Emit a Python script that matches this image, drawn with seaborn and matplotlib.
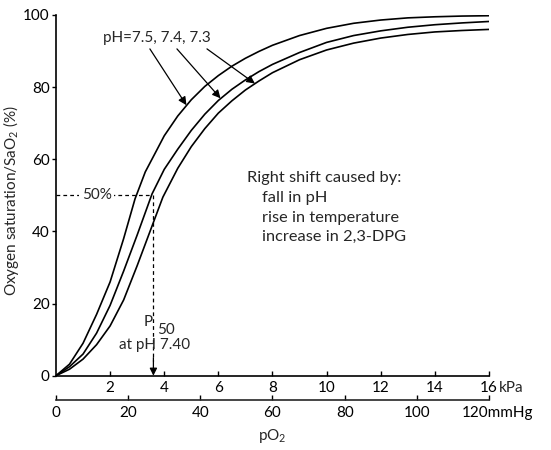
import numpy as np
import pandas as pd
import seaborn as sns
import matplotlib.pyplot as plt
from matplotlib.transforms import ScaledTranslation

# oxygen dissociation curves, pO2 in kPa vs saturation in %
kpa_75 = [0, 0.5, 1, 1.5, 2, 2.5, 2.92, 3.3, 3.7, 4.0, 4.5, 5.0, 5.5, 6.0, 6.5, 7.0, 7.5, 8.0, 9, 10, 11, 12, 13, 14, 15, 16]
sat_75 = [0, 3.2, 9, 17, 26, 38, 49, 56.5, 62.2, 66.5, 72, 76.5, 80.2, 83.2, 85.8, 88, 89.9, 91.6, 94.3, 96.3, 97.7, 98.6, 99.2, 99.5, 99.7, 99.8]

kpa_74 = [0, 0.5, 1, 1.5, 2, 2.5, 3, 3.55, 4.0, 4.5, 5.0, 5.5, 6.0, 6.5, 7.0, 7.5, 8.0, 9, 10, 11, 12, 13, 14, 15, 16]
sat_74 = [0, 2.5, 6, 11.8, 19.5, 29, 39, 50.4, 57.2, 62.8, 68, 72.5, 76.3, 79.4, 82, 84.3, 86.3, 89.6, 92.4, 94.3, 95.6, 96.6, 97.3, 97.8, 98.2]

kpa_73 = [0, 0.5, 1, 1.5, 2, 2.5, 3, 3.5, 3.95, 4.5, 5.0, 5.5, 6.0, 6.5, 7.0, 7.5, 8.0, 9, 10, 11, 12, 13, 14, 15, 16]
sat_73 = [0, 1.8, 4.6, 8.6, 13.8, 21, 30.5, 40.5, 49.5, 57.5, 63.5, 68.5, 72.8, 76.2, 79.2, 81.7, 84, 87.6, 90.3, 92.2, 93.6, 94.6, 95.3, 95.7, 96]

ph_labels = ["7.5", "7.4", "7.3"]
p50_kpa = 3.6
kpa_ticks = [2, 4, 6, 8, 10, 12, 14, 16]
mmhg_ticks = [0, 20, 40, 60, 80, 100, 120]
y_ticks = [0, 20, 40, 60, 80, 100]
shift_lines = ["fall in pH", "rise in temperature", "increase in 2,3-DPG"]

df = pd.concat([
    pd.DataFrame({"kPa": kpa_75, "sat": sat_75, "pH": "7.5"}),
    pd.DataFrame({"kPa": kpa_74, "sat": sat_74, "pH": "7.4"}),
    pd.DataFrame({"kPa": kpa_73, "sat": sat_73, "pH": "7.3"}),
])

sns.set_style("ticks")
plt.rcParams["font.family"] = ["Lato", "DejaVu Sans"]
plt.rcParams["mathtext.fontset"] = "custom"
plt.rcParams["mathtext.rm"] = "Lato"
plt.rcParams["mathtext.it"] = "Lato"
plt.rcParams["mathtext.default"] = "regular"
fs = 11

fig = plt.figure(figsize=(5.51, 4.5), dpi=100)
ax = fig.add_axes([0.1016, 0.1651, 0.7858, 0.8016])

sns.lineplot(data=df, x="kPa", y="sat", units="pH", estimator=None, sort=False,
             color="black", lw=1.2, ax=ax)

ax.set_xlim(0, 16)
ax.set_ylim(0, 100)
for s in ["top", "right"]:
    ax.spines[s].set_visible(False)
for s in ["left", "bottom"]:
    ax.spines[s].set_linewidth(1.2)
    ax.spines[s].set_color("black")

ax.set_yticks(y_ticks)
ax.tick_params(axis="y", direction="out", length=3, width=1, pad=1.5, labelsize=fs, colors="black")
ax.set_xticks(kpa_ticks)
ax.set_xticklabels([str(t) for t in kpa_ticks])
ax.tick_params(axis="x", direction="in", length=3.5, width=1, pad=4, labelsize=fs, colors="black")
ax.set_xlabel("")
ax.set_ylabel("Oxygen saturation/SaO$_2$ (%)", fontsize=fs)
ax.yaxis.set_label_coords(-0.08, 0.485)
ax.annotate("kPa", xy=(16, 0), xytext=(7, -4), textcoords="offset points",
            ha="left", va="top", fontsize=fs)

sec = ax.secondary_xaxis(-0.0674, functions=(lambda x: x * 7.5, lambda x: x / 7.5))
sec.set_xticks(mmhg_ticks)
sec.set_xticklabels([str(t) for t in mmhg_ticks[:-1]] + ["120mmHg"])
sec.tick_params(axis="x", direction="in", length=3.5, width=1, pad=4.5, labelsize=fs, colors="black")
sec.spines["bottom"].set_linewidth(1.2)
sec.set_xlabel("pO$_2$", fontsize=fs, labelpad=5)
last = sec.get_xticklabels()[-1]
last.set_transform(last.get_transform() + ScaledTranslation(6 / 72, 0, fig.dpi_scale_trans))

# 50% / P50 guide lines
ax.plot([0, 3.55], [50, 50], color="black", lw=0.9, ls=(0, (3, 2.5)))
ax.text(1.5, 50, "50%", ha="center", va="center", fontsize=fs,
        bbox=dict(facecolor="white", edgecolor="none", pad=1.5))
ax.plot([p50_kpa, p50_kpa], [50, 4], color="black", lw=0.9, ls=(0, (3, 2.5)))
ax.annotate("", xy=(p50_kpa, 0), xytext=(p50_kpa, 5),
            arrowprops=dict(arrowstyle="-|>", color="black", lw=0.9, mutation_scale=11,
                            shrinkA=0, shrinkB=0))
ax.text(3.4, 15.0, "P", ha="center", va="center", fontsize=fs)
ax.text(4.05, 12.6, "50", ha="center", va="center", fontsize=fs)
ax.text(3.66, 8.4, "at pH 7.40", ha="center", va="center", fontsize=fs)

# curve labels
ax.text(3.72, 93.6, "pH=" + ", ".join(ph_labels), ha="center", va="center", fontsize=fs)
starts = [(3.47, 90.6), (4.47, 90.6), (5.58, 90.6)]
tips = [(4.82, 75.0), (6.08, 76.9), (7.35, 81.0)]
for st, tp in zip(starts, tips):
    ax.annotate("", xy=tp, xytext=st,
                arrowprops=dict(arrowstyle="-|>", color="black", lw=0.9, mutation_scale=12,
                                shrinkA=0, shrinkB=0))

ax.text(7.06, 54.8, "Right shift caused by:", ha="left", va="center", fontsize=11.8)
for i, line in enumerate(shift_lines):
    ax.text(7.6, 49.3 - 5.45 * i, line, ha="left", va="center", fontsize=11.8)

fig.savefig("out.png", dpi=100)
